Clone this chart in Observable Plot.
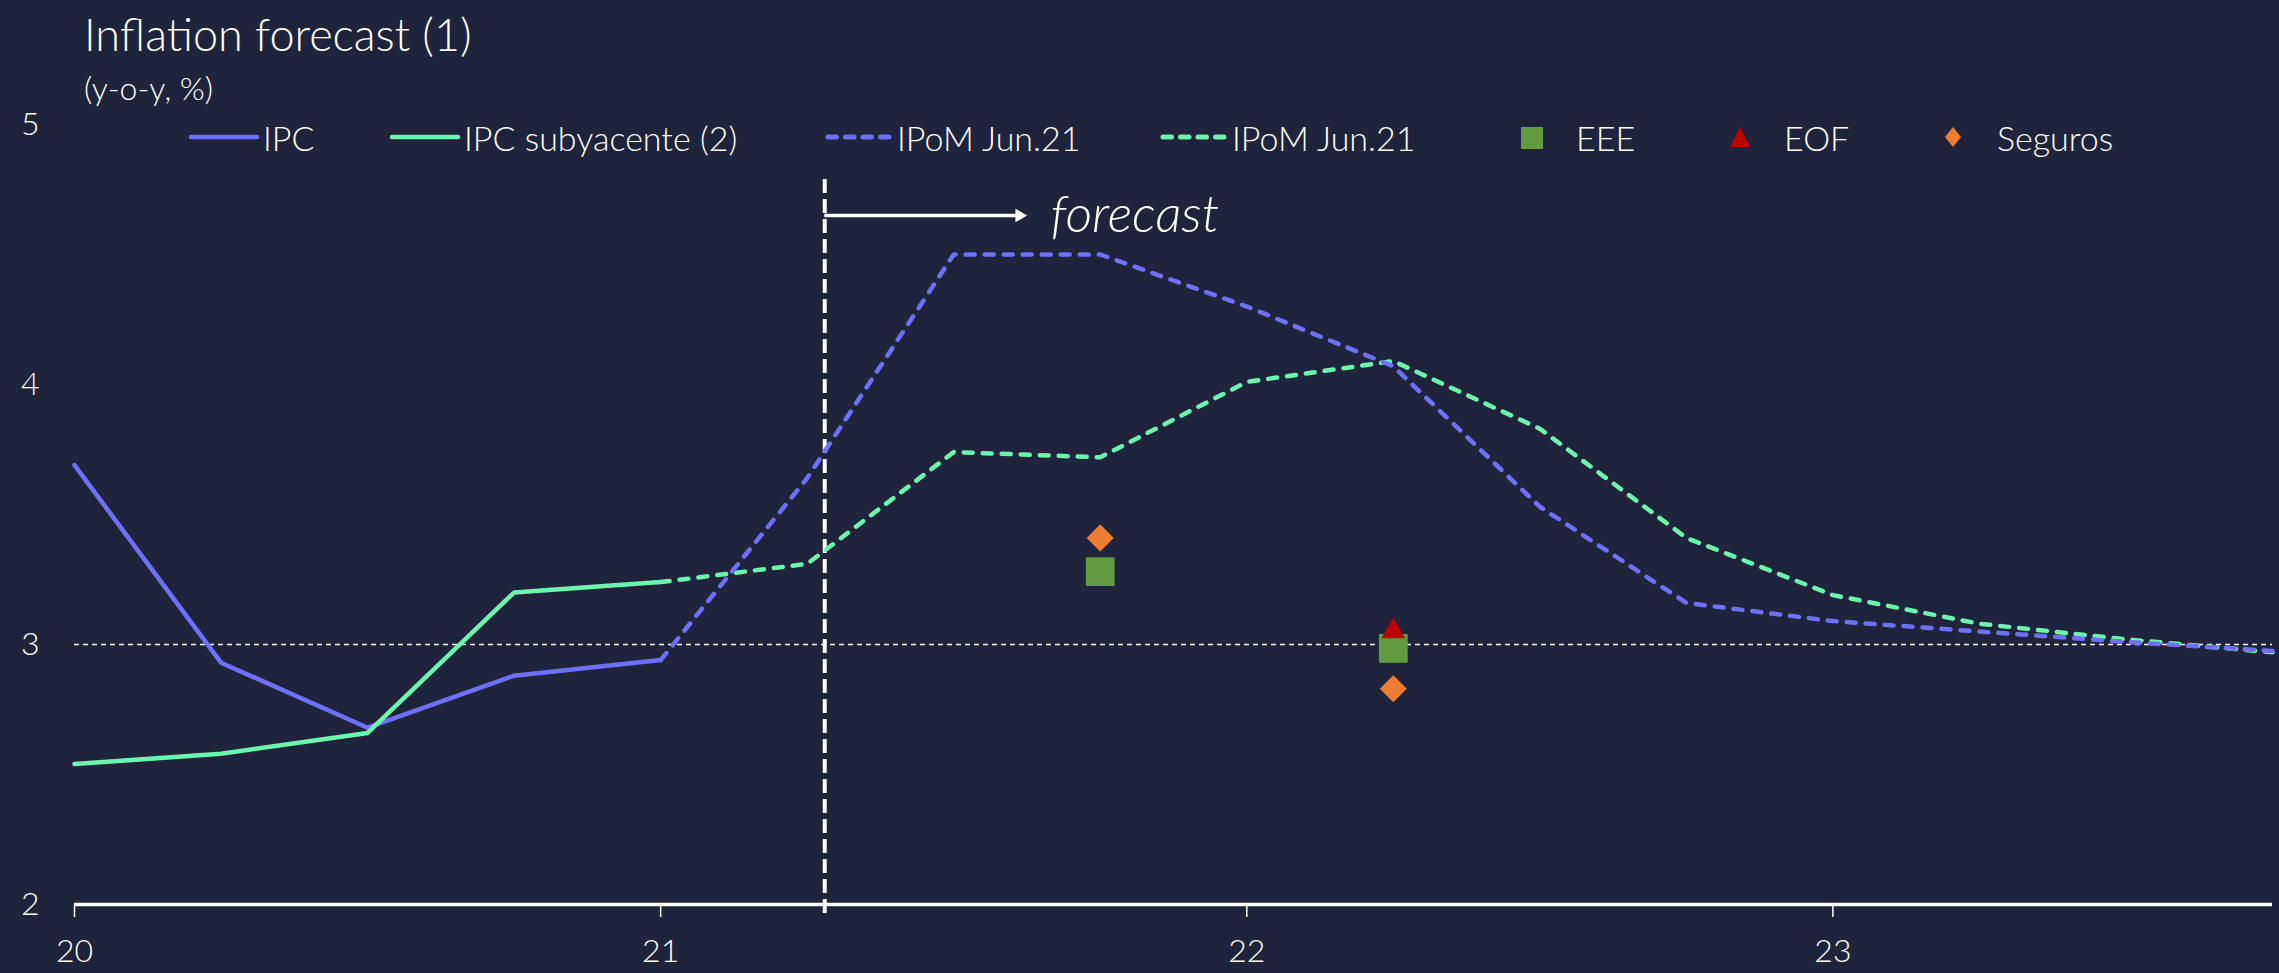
<!DOCTYPE html>
<html>
<head>
<meta charset="utf-8">
<script src="https://cdn.jsdelivr.net/npm/d3@7"></script>
<script src="https://cdn.jsdelivr.net/npm/@observablehq/plot@0.6"></script>
<style>
  html, body { margin: 0; padding: 0; background: #1f233c; }
  body { font-family: Lato, "Open Sans", sans-serif; color: #fff; width: 2279px; height: 973px; overflow: hidden; }
  #header { position: relative; width: 2279px; height: 95px; }
  #title { position: absolute; left: 84px; top: 7px; font-size: 45px; font-weight: 300; white-space: nowrap; line-height: 1.2; }
  #subtitle { position: absolute; left: 84px; top: 69px; font-size: 32px; font-weight: 300; white-space: nowrap; line-height: 1.2; }
  #chartwrap { position: relative; width: 2279px; height: 878px; }
  #legend { position: absolute; left: 0; top: 22px; width: 2279px; height: 40px; pointer-events: none; }
  .item { position: absolute; top: 0; height: 40px; display: flex; align-items: center; font-size: 34px; font-weight: 300; white-space: nowrap; }
  .item svg { display: block; }
</style>
</head>
<body>
<div id="header">
  <div id="title">Inflation forecast (1)</div>
  <div id="subtitle">(y-o-y, %)</div>
</div>
<div id="chartwrap">
  <div id="chart"></div>
  <div id="legend"></div>
</div>
<script>
// ---- data ----
const histQuarters = [20, 20.25, 20.5, 20.75, 21];
const ipcHist = [3.69, 2.93, 2.68, 2.88, 2.94];
const coreHist = [2.54, 2.58, 2.66, 3.20, 3.24];

const fcQuarters = [21, 21.25, 21.5, 21.75, 22, 22.25, 22.5, 22.75, 23, 23.25, 23.5, 23.75];
const ipomIpc = [2.94, 3.64, 4.50, 4.50, 4.30, 4.07, 3.53, 3.16, 3.09, 3.05, 3.01, 2.975];
const ipomCore = [3.24, 3.31, 3.74, 3.72, 4.01, 4.09, 3.83, 3.41, 3.19, 3.08, 3.02, 2.97];

const surveyQuarters = [21.75, 22.25];
const eee = [3.28, 2.985];
const eofQuarters = [22.25];
const eof = [3.05];
const seguros = [3.41, 2.83];

const xTicks = [20, 21, 22, 23];
const yTicks = [2, 3, 4, 5];
const xTickLabels = ["20", "21", "22", "23"];
const yTickLabels = ["2", "3", "4", "5"];

const forecastStart = 21.28;
const forecastLabel = "forecast";

const seriesNames = ["IPC", "IPC subyacente (2)", "IPoM Jun.21", "IPoM Jun.21", "EEE", "EOF", "Seguros"];

// ---- colors ----
const blue = "#6e70f8";
const green = "#6cf5ad";
const cEEE = "#629b40";
const cEOF = "#c00000";
const cSeg = "#ed7d31";
const white = "#ffffff";

const hist = histQuarters.map((q, i) => ({q, ipc: ipcHist[i], core: coreHist[i]}));
const fc = fcQuarters.map((q, i) => ({q, ipc: ipomIpc[i], core: ipomCore[i]}));
const survey = surveyQuarters.map((q, i) => ({q, eee: eee[i], seg: seguros[i]}));
const eofData = eofQuarters.map((q, i) => ({q, v: eof[i]}));

const plot = Plot.plot({
  width: 2279,
  height: 878,
  marginLeft: 74,
  marginRight: 7,
  marginTop: 29,
  marginBottom: 69,
  style: { background: "transparent", color: white, fontFamily: "Lato, sans-serif", overflow: "visible" },
  x: { domain: [20, 23.75] },
  y: { domain: [2, 5] },
  marks: [
    Plot.axisY(yTicks, { tickSize: 0, tickPadding: 35, fontSize: 32, fontWeight: 300, fill: white, label: null, tickFormat: d => yTickLabels[yTicks.indexOf(d)] }),
    Plot.axisX(xTicks, { tickSize: 13, tickPadding: 22, fontSize: 32, fontWeight: 300, stroke: white, strokeWidth: 1.5, fill: white, label: null, tickFormat: d => xTickLabels[xTicks.indexOf(d)] }),
    Plot.ruleY([3], { stroke: white, strokeWidth: 1.6, strokeDasharray: "5,4" }),
    Plot.ruleY([2], { x1: 20, x2: 23.75, stroke: white, strokeWidth: 3.5 }),
    Plot.ruleX([forecastStart], { y1: 1.965, y2: 4.81, stroke: white, strokeWidth: 4, strokeDasharray: "14,6" }),
    Plot.ruleY([4.65], { x1: forecastStart, x2: 21.61, stroke: white, strokeWidth: 3.5 }),
    Plot.dot([{x: 21.612, y: 4.65}], { x: "x", y: "y", symbol: "triangle2", rotate: 90, r: 6.5, fill: white, stroke: "none" }),
    Plot.text([forecastLabel], { x: 21.665, y: 4.65, text: d => d, textAnchor: "start", fontSize: 52, fontStyle: "italic", fontWeight: 300, fill: white }),
    Plot.line(fc, { x: "q", y: "core", stroke: green, strokeWidth: 4.5, strokeDasharray: "9,10", strokeLinecap: "round" }),
    Plot.line(fc, { x: "q", y: "ipc", stroke: blue, strokeWidth: 4.5, strokeDasharray: "9,10", strokeLinecap: "round" }),
    Plot.line(hist, { x: "q", y: "ipc", stroke: blue, strokeWidth: 4.5 }),
    Plot.line(hist, { x: "q", y: "core", stroke: green, strokeWidth: 4.5 }),
    Plot.dot(survey, { x: "q", y: "eee", symbol: "square", r: 16.2, fill: cEEE, stroke: "none" }),
    Plot.dot(eofData, { x: "q", y: "v", symbol: "triangle2", r: 11.3, fill: cEOF, stroke: "none" }),
    Plot.dot(survey, { x: "q", y: "seg", symbol: "diamond2", r: 12.2, fill: cSeg, stroke: "none" })
  ]
});
document.getElementById("chart").appendChild(plot);

// ---- legend ----
const legendItems = [
  { name: seriesNames[0], type: "line", color: blue, left: 189 },
  { name: seriesNames[1], type: "line", color: green, left: 390 },
  { name: seriesNames[2], type: "dash", color: blue, left: 823 },
  { name: seriesNames[3], type: "dash", color: green, left: 1158 },
  { name: seriesNames[4], type: "square", color: cEEE, left: 1520 },
  { name: seriesNames[5], type: "triangle", color: cEOF, left: 1728 },
  { name: seriesNames[6], type: "diamond", color: cSeg, left: 1943 }
];
const legend = document.getElementById("legend");
for (const it of legendItems) {
  const div = document.createElement("div");
  div.className = "item";
  div.style.left = it.left + "px";
  let sw;
  if (it.type === "line") {
    sw = `<svg width="74" height="20"><line x1="2" y1="10" x2="68" y2="10" stroke="${it.color}" stroke-width="4.5" stroke-linecap="round"/></svg>`;
  } else if (it.type === "dash") {
    sw = `<svg width="74" height="20"><line x1="5" y1="10" x2="70" y2="10" stroke="${it.color}" stroke-width="5" stroke-dasharray="8.5,9" stroke-linecap="round"/></svg>`;
  } else if (it.type === "square") {
    sw = `<svg width="56" height="24"><rect x="1" y="2" width="22" height="22" fill="${it.color}"/></svg>`;
  } else if (it.type === "triangle") {
    sw = `<svg width="56" height="24"><path d="M12,2 L22,22 L2,22 Z" fill="${it.color}"/></svg>`;
  } else {
    sw = `<svg width="54" height="24"><path d="M10,2 L18,12 L10,22 L2,12 Z" fill="${it.color}"/></svg>`;
  }
  div.innerHTML = sw + `<span>${it.name}</span>`;
  legend.appendChild(div);
}
</script>
</body>
</html>
